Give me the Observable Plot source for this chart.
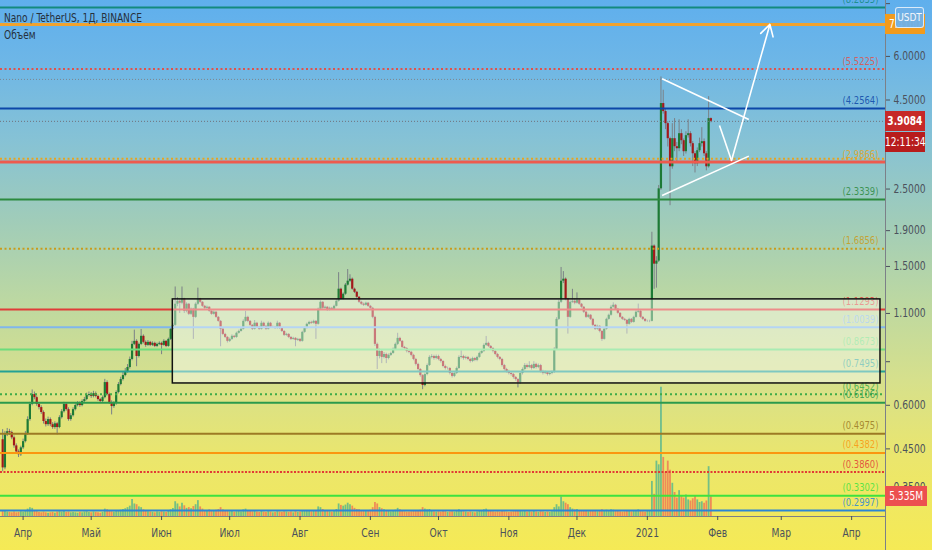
<!DOCTYPE html>
<html><head><meta charset="utf-8">
<script src="https://cdn.jsdelivr.net/npm/d3@7"></script>
<script src="https://cdn.jsdelivr.net/npm/@observablehq/plot@0.6"></script>
<style>
html,body{margin:0;padding:0;overflow:hidden;}
#wrap{position:relative;width:932px;height:550px;overflow:hidden;
background:linear-gradient(to bottom,#5fafed 0px,#6db6e7 60px,#86c2d5 140px,#a0ccb9 220px,#bcd8a2 300px,#d6e08c 380px,#ebe66c 460px,#f5ea55 550px);
font-family:'Liberation Sans Narrow','DejaVu Sans Condensed',sans-serif;}
.layer{position:absolute;left:0;top:0;}
.tag{position:absolute;height:20px;line-height:20px;color:#fff;font-size:12px;white-space:nowrap;display:flex;justify-content:center;overflow:visible;}
.tag span{display:inline-block;transform:scaleX(0.84);}
.ttl{position:absolute;left:4px;color:#26303c;font-size:12px;white-space:nowrap;transform:scaleX(0.84);transform-origin:left center;}
</style></head><body>
<div id="wrap"><div id="vol" class="layer"></div><div id="main" class="layer"></div></div>
<script>
// ---------- DATA ----------
const firstOpen = 0.478;
const closes = [
0.397,0.494,0.504,0.501,0.484,0.459,0.441,0.433,0.453,0.472,
0.497,0.546,0.603,0.644,0.631,0.603,0.591,0.572,0.539,0.528,
0.546,0.528,0.518,0.531,0.518,0.553,0.575,0.603,0.583,0.546,
0.560,0.583,0.599,0.607,0.599,0.615,0.623,0.640,0.644,0.636,
0.648,0.636,0.623,0.615,0.631,0.697,0.644,0.611,0.595,0.607,
0.653,0.688,0.711,0.730,0.750,0.770,0.812,0.897,0.915,0.828,
0.897,0.946,0.909,0.891,0.909,0.891,0.903,0.885,0.897,0.903,
0.891,0.915,0.885,0.927,0.991,1.017,1.169,1.192,1.177,1.208,
1.116,1.169,1.094,1.131,1.072,1.169,1.208,1.184,1.153,1.138,
1.146,1.116,1.094,1.109,1.072,1.044,0.991,0.958,0.939,0.915,
0.927,0.946,0.939,0.965,0.977,0.991,1.044,1.072,1.044,1.017,
0.991,1.031,1.004,0.991,1.031,1.010,0.991,1.031,1.004,1.004,
0.997,1.031,0.997,0.977,0.952,0.958,0.939,0.927,0.933,0.921,
0.927,0.915,0.971,0.997,1.024,1.037,1.031,1.044,1.024,1.131,
1.184,1.138,1.146,1.123,1.138,1.131,1.153,1.192,1.291,1.208,
1.249,1.326,1.361,1.379,1.291,1.265,1.224,1.184,1.169,1.161,
1.177,1.153,1.138,1.072,0.897,0.828,0.856,0.823,0.839,0.817,
0.834,0.845,0.868,0.897,0.933,0.915,0.879,0.873,0.856,0.851,
0.834,0.812,0.786,0.760,0.730,0.684,0.735,0.780,0.823,0.828,
0.817,0.828,0.812,0.801,0.775,0.765,0.765,0.740,0.726,0.740,
0.765,0.823,0.828,0.817,0.823,0.812,0.801,0.817,0.807,0.823,
0.845,0.856,0.891,0.903,0.885,0.873,0.856,0.839,0.823,0.812,
0.780,0.760,0.750,0.740,0.735,0.721,0.711,0.697,0.740,0.760,
0.780,0.770,0.780,0.765,0.786,0.770,0.780,0.750,0.740,0.745,
0.735,0.740,0.745,0.868,1.058,1.184,1.361,1.379,1.208,1.072,
1.184,1.192,1.177,1.200,1.169,1.146,1.109,1.072,1.087,1.058,
1.017,0.991,1.010,0.977,0.927,0.991,1.058,1.087,1.146,1.161,
1.131,1.101,1.072,1.058,1.051,1.024,1.058,1.037,1.072,1.109,
1.116,1.072,1.058,1.044,1.044,1.044,1.716,1.523,1.554,2.504,
4.396,4.169,3.850,3.486,2.896,3.486,3.306,3.263,3.603,3.440,
3.199,3.556,3.603,3.373,3.156,2.954,3.220,3.373,3.418,3.156,
2.896,3.980,3.9084
];
const highs = [
0.511,0.505,0.515,0.512,0.506,0.490,0.465,0.447,0.458,0.480,
0.505,0.556,0.612,0.664,0.655,0.638,0.610,0.598,0.578,0.548,
0.555,0.552,0.535,0.538,0.536,0.560,0.583,0.612,0.610,0.590,
0.568,0.590,0.606,0.615,0.614,0.622,0.632,0.650,0.655,0.652,
0.658,0.655,0.642,0.628,0.638,0.712,0.705,0.650,0.618,0.615,
0.660,0.697,0.722,0.745,0.765,0.785,0.825,0.915,0.985,0.925,
0.905,0.990,0.955,0.918,0.920,0.915,0.912,0.910,0.905,0.912,
0.910,0.925,0.920,0.935,1.000,1.030,1.310,1.220,1.205,1.310,
1.215,1.180,1.175,1.140,1.138,1.180,1.300,1.215,1.190,1.160,
1.155,1.150,1.120,1.118,1.113,1.078,1.050,0.997,0.965,0.945,
0.935,0.955,0.952,0.972,0.985,1.000,1.055,1.115,1.080,1.050,
1.022,1.050,1.037,1.010,1.045,1.038,1.015,1.040,1.037,1.012,
1.010,1.045,1.036,1.002,0.982,0.965,0.963,0.945,0.940,0.938,
0.933,0.932,0.978,1.005,1.032,1.045,1.045,1.052,1.050,1.140,
1.195,1.190,1.155,1.152,1.147,1.145,1.162,1.205,1.440,1.300,
1.260,1.340,1.470,1.420,1.390,1.300,1.272,1.230,1.192,1.178,
1.185,1.183,1.160,1.145,1.080,0.905,0.870,0.862,0.850,0.846,
0.842,0.852,0.876,0.905,0.965,0.940,0.920,0.885,0.878,0.862,
0.857,0.840,0.818,0.792,0.765,0.735,0.742,0.788,0.832,0.838,
0.835,0.836,0.835,0.818,0.806,0.782,0.772,0.770,0.746,0.746,
0.772,0.832,0.860,0.835,0.830,0.828,0.818,0.824,0.822,0.830,
0.852,0.864,0.900,0.945,0.910,0.890,0.878,0.861,0.845,0.828,
0.818,0.786,0.766,0.756,0.746,0.740,0.726,0.716,0.748,0.768,
0.790,0.788,0.800,0.786,0.800,0.792,0.788,0.786,0.756,0.752,
0.750,0.746,0.752,0.878,1.070,1.200,1.490,1.450,1.390,1.215,
1.195,1.290,1.210,1.260,1.208,1.175,1.152,1.115,1.095,1.092,
1.065,1.022,1.018,1.015,0.982,1.000,1.066,1.095,1.160,1.180,
1.168,1.137,1.106,1.078,1.065,1.057,1.066,1.064,1.080,1.120,
1.170,1.122,1.078,1.064,1.052,1.052,1.880,1.730,1.600,2.560,
5.240,4.800,4.250,3.900,3.520,3.850,3.980,3.400,3.950,3.700,
3.480,3.650,3.950,3.650,3.420,3.200,3.280,3.500,3.750,3.480,
3.200,4.600,4.000
];
const lows = [
0.387,0.392,0.488,0.492,0.478,0.452,0.436,0.425,0.428,0.448,
0.468,0.492,0.540,0.598,0.622,0.596,0.582,0.565,0.530,0.520,
0.522,0.521,0.512,0.512,0.493,0.514,0.548,0.570,0.577,0.540,
0.540,0.555,0.578,0.594,0.592,0.594,0.610,0.618,0.634,0.628,
0.630,0.630,0.616,0.607,0.610,0.626,0.638,0.604,0.563,0.588,
0.600,0.647,0.682,0.704,0.724,0.742,0.762,0.805,0.890,0.774,
0.820,0.890,0.900,0.880,0.885,0.884,0.885,0.878,0.878,0.890,
0.838,0.886,0.878,0.880,0.920,0.985,1.010,1.150,1.100,1.165,
1.100,1.105,1.085,1.085,0.927,1.065,1.160,1.175,1.145,1.130,
1.130,1.108,1.087,1.088,1.065,1.038,0.883,0.950,0.932,0.905,
0.908,0.920,0.932,0.934,0.960,0.972,0.986,1.038,1.035,1.010,
0.983,0.986,0.997,0.984,0.986,1.003,0.984,0.986,0.998,0.996,
0.990,0.992,0.990,0.970,0.945,0.946,0.932,0.920,0.922,0.883,
0.915,0.908,0.910,0.965,0.992,1.018,1.024,1.025,0.927,1.018,
1.125,1.130,1.130,1.115,1.118,1.124,1.126,1.148,1.185,1.200,
1.200,1.240,1.318,1.350,1.282,1.255,1.215,1.175,1.160,1.152,
1.155,1.145,1.130,1.062,0.885,0.760,0.815,0.790,0.815,0.790,
0.810,0.828,0.840,0.862,0.890,0.908,0.872,0.866,0.848,0.843,
0.826,0.805,0.778,0.752,0.722,0.665,0.678,0.729,0.775,0.815,
0.808,0.810,0.805,0.793,0.768,0.757,0.757,0.733,0.718,0.720,
0.735,0.760,0.815,0.808,0.810,0.805,0.793,0.795,0.800,0.800,
0.818,0.840,0.850,0.885,0.878,0.866,0.848,0.832,0.815,0.805,
0.772,0.752,0.742,0.733,0.727,0.713,0.703,0.673,0.690,0.733,
0.753,0.762,0.764,0.757,0.760,0.762,0.764,0.742,0.733,0.735,
0.728,0.729,0.734,0.740,0.862,1.050,1.175,1.340,1.195,0.960,
1.065,1.175,1.165,1.170,1.160,1.138,1.100,1.064,1.065,1.050,
1.008,0.983,0.985,0.968,0.915,0.922,0.985,1.052,1.080,1.140,
1.124,1.094,1.065,1.050,1.044,0.960,1.018,1.030,1.032,1.066,
1.102,1.065,1.050,1.037,1.037,1.035,1.040,1.290,1.300,1.540,
2.480,4.100,3.700,3.300,2.240,2.850,3.200,3.000,3.200,3.350,
3.100,3.150,3.500,3.300,2.900,2.780,2.900,3.180,3.300,3.100,
2.820,2.870,3.870
];
// daily volume, millions
const volumes = [
1.6,1.4,1.2,1.1,1.0,1.2,1.0,1.1,1.3,1.2,
1.4,2.0,2.4,2.2,1.6,1.3,1.1,1.0,1.2,1.0,
0.9,1.0,1.1,0.9,1.2,1.3,1.2,1.4,1.1,1.2,
1.0,1.1,1.0,0.9,1.1,1.0,1.2,1.3,1.1,1.0,
1.2,1.1,1.0,0.9,1.1,2.0,1.8,1.5,1.3,1.2,
1.4,1.6,1.7,1.9,2.1,2.4,2.8,4.6,3.4,3.2,
2.6,2.4,1.8,1.5,1.3,1.2,1.1,1.0,1.2,1.1,
1.3,1.2,1.1,1.5,1.8,2.2,4.0,3.4,2.6,3.6,
2.9,2.2,2.4,2.1,2.7,3.2,4.3,2.6,2.0,1.6,
1.4,1.8,1.6,1.4,1.7,1.9,2.4,1.8,1.5,1.4,
1.3,1.4,1.2,1.3,1.4,1.3,1.8,2.0,1.6,1.4,
1.3,1.5,1.2,1.1,1.4,1.2,1.1,1.3,1.2,1.0,
1.1,1.3,1.2,1.1,1.3,1.2,1.1,1.2,1.0,1.3,
1.1,1.2,1.5,1.4,1.6,1.5,1.3,1.4,1.6,2.6,
2.4,1.9,1.6,1.4,1.3,1.2,1.4,1.9,3.4,3.0,
2.8,3.1,3.6,3.2,2.8,2.2,1.9,1.8,1.6,1.4,
1.5,1.6,1.7,2.4,3.8,3.4,2.4,2.1,1.8,1.6,
1.4,1.3,1.5,1.7,2.2,1.8,1.5,1.3,1.2,1.2,
1.3,1.4,1.5,1.6,1.7,2.4,2.0,1.8,1.9,1.5,
1.3,1.2,1.3,1.2,1.4,1.3,1.1,1.2,1.3,1.2,
1.4,1.8,1.6,1.3,1.2,1.1,1.2,1.1,1.0,1.2,
1.4,1.5,1.8,2.0,1.6,1.4,1.3,1.2,1.3,1.2,
1.4,1.3,1.2,1.1,1.2,1.3,1.4,1.6,1.5,1.3,
1.4,1.2,1.3,1.2,1.4,1.2,1.1,1.3,1.2,1.1,
1.2,1.1,1.3,2.4,3.2,2.6,5.3,4.0,3.6,3.2,
2.4,2.0,1.8,1.9,1.6,1.5,1.4,1.5,1.3,1.4,
1.5,1.4,1.3,1.4,1.8,1.6,1.7,1.6,1.8,1.7,
1.5,1.4,1.3,1.2,1.3,1.5,1.4,1.3,1.5,1.6,
1.8,1.5,1.3,1.2,1.4,1.6,9.5,6.0,15.0,14.0,
35.0,16.0,12.0,15.0,12.5,9.0,6.5,5.0,7.0,5.5,
5.0,5.8,4.5,4.2,4.8,5.5,4.5,3.8,4.0,3.6,
4.2,13.5,5.335
];
const firstDay = "2020-03-23";
// horizontal levels drawn on the chart
const levelValues = [8.2835, 7.41, 5.5225, 5.155, 4.2564, 3.9084, 3.056, 2.9866, 2.3339, 1.6856, 1.1293, 1.0039, 0.8673, 0.7495, 0.6452, 0.6106, 0.4975, 0.4382, 0.3860, 0.3302, 0.2997];
const levelLabeled = [true,false,true,false,true,false,false,true,true,true,true,true,true,true,true,true,true,true,true,true,true];
// rectangle (range box)
const boxDates = ["2020-06-05T23:00Z", "2021-04-13T17:00Z"];
const boxPrices = [0.693, 1.207];
// triangle and arrow drawings
const triangle = [
  {x1: "2021-01-07T12:00Z", y1: 5.18, x2: "2021-02-14T17:00Z", y2: 3.958},
  {x1: "2021-01-07T12:00Z", y1: 2.397, x2: "2021-02-14T17:00Z", y2: 3.107}
];
const arrowPts = [
  {x: "2021-02-01T19:00Z", y: 3.804},
  {x: "2021-02-07T02:00Z", y: 3.02},
  {x: "2021-02-24T00:00Z", y: 7.41}
];
// axes
const xDomainDates = ["2020-03-22T01:03Z", "2021-04-15T22:05Z"];
const yDomain = [0.2880, 8.678];
const yTicks = [0.35, 0.45, 0.6, 0.8, 1.1, 1.5, 1.9, 2.5, 4.5, 6, 8.5];
const xTickDates = ["2020-04-01","2020-05-01","2020-06-01","2020-07-01","2020-08-01","2020-09-01","2020-10-01","2020-11-01","2020-12-01","2021-01-01","2021-02-01","2021-03-01","2021-04-01"];
const xTickLabels = ["Апр","Май","Июн","Июл","Авг","Сен","Окт","Ноя","Дек","2021","Фев","Мар","Апр"];
const volumeTop = 139.8;
const lastPrice = 3.9084, lastVolume = 5.335, orangeLevel = 7.41;

// ---------- STYLES ----------
const levelStyles = [
 {stroke:"#138a7e", w:2},
 {stroke:"#f0a22e", w:3},
 {stroke:"#e0524c", w:2, dash:"2,2.5"},
 {stroke:"#7d8590", w:1, dash:"1,2"},
 {stroke:"#0c47a8", w:2},
 {stroke:"#6f737c", w:1, dash:"1,2"},
 {stroke:"#e8a321", w:2, dash:"2,2.5"},
 {stroke:"#ee5a4e", w:3, label:"#e8a321"},
 {stroke:"#2c8a3e", w:2},
 {stroke:"#c99b1c", w:2, dash:"2,2.5"},
 {stroke:"#e03c38", w:2},
 {stroke:"#7fb6ec", w:2},
 {stroke:"#6cdc7c", w:2},
 {stroke:"#23a195", w:2},
 {stroke:"#3daa48", w:2, dash:"2,3"},
 {stroke:"#2b9a4c", w:2},
 {stroke:"#9c7a24", w:2},
 {stroke:"#fb9610", w:2},
 {stroke:"#e23b35", w:2, dash:"2,1.5"},
 {stroke:"#3ee23e", w:2},
 {stroke:"#2a86d6", w:2}
];
const FONT = "'Liberation Sans Narrow','DejaVu Sans Condensed',sans-serif";
const W = 932, H = 550, MB = 34, MR = 47;
const SQUEEZE = 0.85;

// ---------- BUILD ----------
const DAY = 864e5;
const t0 = Date.parse(firstDay + "T00:00Z");
const candles = closes.map((c, i) => {
  const o = i === 0 ? firstOpen : closes[i - 1];
  return {date: new Date(t0 + i * DAY), o, c, h: Math.max(highs[i], o, c), l: Math.min(lows[i], o, c), v: volumes[i], up: c >= o};
});
const xDomain = xDomainDates.map(d => new Date(d));
const labelMap = new Map(xTickDates.map((d, i) => [+new Date(d), xTickLabels[i]]));
const levels = levelValues.map((v, i) => ({value: v, ...levelStyles[i], labeled: levelLabeled[i]}));
const labeled = levels.filter(d => d.labeled).map(d => ({value: d.value, text: `(${d.value.toFixed(4)})`, color: d.label || d.stroke}));

const base = {width: W, height: H, marginTop: 0, marginBottom: MB, marginLeft: 0, marginRight: MR,
  style: {background: "transparent", fontFamily: FONT, fontSize: "12px", overflow: "visible"}};

const volPlot = Plot.plot({...base,
  x: {type: "utc", domain: xDomain, axis: null},
  y: {domain: [0, volumeTop], axis: null},
  color: {type: "identity"},
  marks: [
    Plot.ruleX(candles, {x: "date", y1: 0, y2: "v", stroke: d => d.up ? "rgba(38,166,154,0.62)" : "rgba(239,83,80,0.62)", strokeWidth: 1.8})
  ]
});
document.getElementById("vol").appendChild(volPlot);

const toD = s => new Date(s);
const main = Plot.plot({...base,
  x: {type: "utc", domain: xDomain, axis: null},
  y: {type: "log", domain: yDomain, axis: null},
  color: {type: "identity"},
  marks: [
    Plot.ruleX(candles, {x: "date", y1: "l", y2: "h", stroke: "#7a8087", strokeWidth: 1}),
    Plot.ruleX(candles, {x: "date", y1: "o", y2: "c", stroke: d => d.up ? "#1d7a35" : "#a3181a", strokeWidth: 2.2}),
    ...levels.map(l => Plot.ruleY([l.value], {stroke: l.stroke, strokeWidth: l.w, strokeDasharray: l.dash})),
    Plot.text(labeled, {y: "value", text: "text", frameAnchor: "right", dx: -7, dy: -8, textAnchor: "end", fill: "color", fontSize: 11, fillOpacity: 0.85}),
    Plot.rect([0], {x1: () => toD(boxDates[0]), x2: () => toD(boxDates[1]), y1: () => boxPrices[0], y2: () => boxPrices[1], fill: "white", fillOpacity: 0.42, stroke: "#111", strokeWidth: 1.5}),
    Plot.link(triangle, {x1: d => toD(d.x1), y1: "y1", x2: d => toD(d.x2), y2: "y2", stroke: "white", strokeWidth: 1.6}),
    Plot.link([0], {x1: () => toD(arrowPts[0].x), y1: () => arrowPts[0].y, x2: () => toD(arrowPts[1].x), y2: () => arrowPts[1].y, stroke: "white", strokeWidth: 1.6}),
    Plot.arrow([0], {x1: () => toD(arrowPts[1].x), y1: () => arrowPts[1].y, x2: () => toD(arrowPts[2].x), y2: () => arrowPts[2].y, stroke: "white", strokeWidth: 1.6, headLength: 12}),
    Plot.ruleY([yDomain[0]], {stroke: "#7c8088", strokeWidth: 1}),
    Plot.ruleX([xDomain[1]], {stroke: "#7c8088", strokeWidth: 1}),
    Plot.axisY({anchor: "right", ticks: yTicks, tickFormat: d => d.toFixed(4), tickSize: 4, tickPadding: 4, fontSize: 12, color: "#4b515c", label: null}),
    Plot.axisX({ticks: xTickDates.map(toD), tickFormat: d => labelMap.get(+d), tickSize: 4, tickPadding: 8, fontSize: 12, color: "#4b515c", label: null})
  ]
});
document.getElementById("main").appendChild(main);
// condense svg text horizontally (chart font is narrow)
d3.select(main).selectAll("text").each(function () {
  const len = this.getComputedTextLength();
  if (len > 0) { this.setAttribute("textLength", (len * SQUEEZE).toFixed(1)); this.setAttribute("lengthAdjust", "spacingAndGlyphs"); }
});

// ---------- OVERLAY TAGS (positioned with the plot scales) ----------
const wrap = document.getElementById("wrap");
const ys = main.scale("y"), xs = main.scale("x"), vs = volPlot.scale("y");
const axisX = xs.apply(xDomain[1]);
const bottomY = ys.apply(yDomain[0]);
function div(css, html) { const d = document.createElement("div"); d.style.cssText = css; if (html != null) d.innerHTML = html; wrap.appendChild(d); return d; }
div(`position:absolute;left:${axisX - 0.5}px;top:${bottomY}px;width:1px;height:${H - bottomY}px;background:#7c8088;`);
function tag(y, text, bg, extra = "") {
  div(`left:${axisX}px;top:${y - 10}px;width:40px;background:${bg};${extra}`, `<span>${text}</span>`).className = "tag";
}
tag(ys.apply(orangeLevel), orangeLevel.toFixed(4), "#f29b1d");
tag(ys.apply(lastPrice), lastPrice.toFixed(4), "#c62828", "font-weight:bold;");
tag(ys.apply(lastPrice) + 21, "12:11:34", "#b71c1c");
tag(vs.apply(lastVolume), lastVolume.toFixed(3) + "M", "#ec5050", "width:42px;");
div(`position:absolute;left:${axisX + 10}px;top:7px;width:27px;height:19px;line-height:19px;border:1px solid rgba(255,255,255,0.75);border-radius:3px;background:rgba(110,176,232,0.95);color:#f4f8ff;font-size:10px;text-align:center;`, "USDT");
div("top:11px;", "Nano / TetherUS, 1Д, BINANCE").className = "ttl";
div("top:28px;", "Объём").className = "ttl";
</script></body></html>
